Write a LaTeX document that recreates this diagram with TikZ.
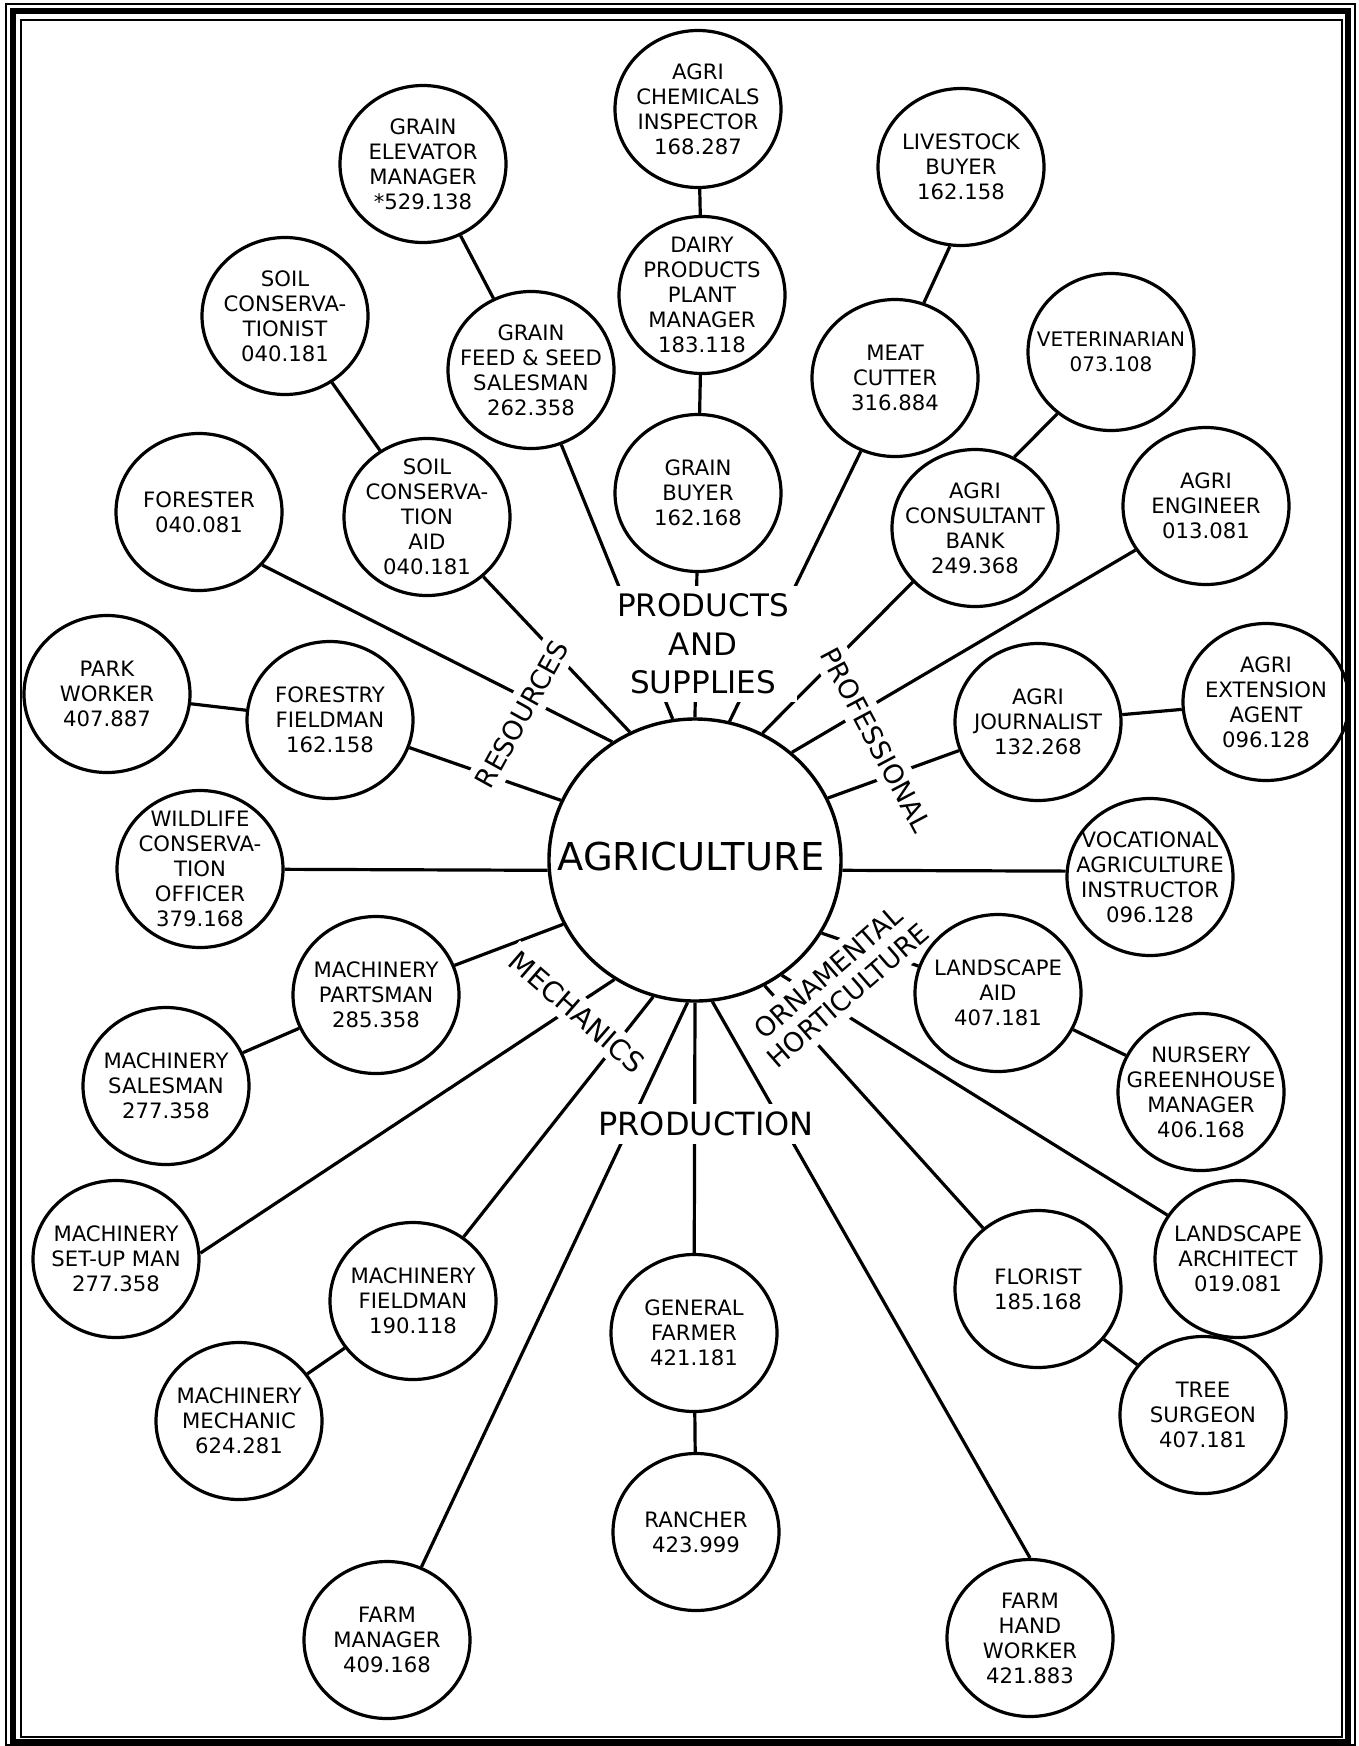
\documentclass[tikz,border=0pt]{standalone}
\usepackage{fontspec}
\setmainfont{DejaVu Sans}
\usetikzlibrary{shapes.geometric}
\pgfdeclarelayer{bg}
\pgfsetlayers{bg,main}
\newcommand\mybub[3]{\node[bub] (#1) at (#2) {}; \node[txt] at (#1) {#3};}
\begin{document}
\begin{tikzpicture}[x=0.5pt,y=-0.5pt,
  bub/.style={draw, ellipse, line width=1.6pt, minimum width=83pt, minimum height=78.5pt, inner sep=0pt},
  txt/.style={align=center, font=\fontsize{10.6}{12.5}\selectfont, inner sep=0pt},
  cat/.style={fill=white, inner sep=4pt, align=center, font=\fontsize{13.4}{15.2}\selectfont},
  bigcat/.style={fill=white, inner sep=4pt, align=center, font=\fontsize{15.5}{19.25}\selectfont},
  link/.style={line width=1.6pt}]
\useasboundingbox (0,0) rectangle (1359,1746);
% frame
\draw[line width=0.6pt] (6,4) rectangle (1355,1745);
\draw[line width=2.8pt] (13,11) rectangle (1348,1742);
\draw[line width=0.8pt] (21,20) rectangle (1342,1737);
% centre
\node[draw, ellipse, line width=1.7pt, minimum width=146pt, minimum height=141pt, inner sep=0pt] (agri) at (695,860) {};
\node[inner sep=0pt, font=\fontsize{19.2}{22}\selectfont] at (691,857) {AGRICULTURE};
% bubbles
\mybub{chem}{698,109}{AGRI\\CHEMICALS\\INSPECTOR\\168.287}
\mybub{dairy}{702,295}{DAIRY\\PRODUCTS\\PLANT\\MANAGER\\183.118}
\mybub{gbuyer}{698,493}{GRAIN\\BUYER\\162.168}
\mybub{gelev}{423,164}{GRAIN\\ELEVATOR\\MANAGER\\*529.138}
\mybub{gfeed}{531,370}{GRAIN\\FEED \& SEED\\SALESMAN\\262.358}
\mybub{soilc}{285,316}{SOIL\\CONSERVA-\\TIONIST\\040.181}
\mybub{soilaid}{427,517}{SOIL\\CONSERVA-\\TION\\AID\\040.181}
\mybub{forester}{199,512}{FORESTER\\040.081}
\mybub{park}{107,694}{PARK\\WORKER\\407.887}
\mybub{fieldman}{330,720}{FORESTRY\\FIELDMAN\\162.158}
\mybub{wild}{200,869}{WILDLIFE\\CONSERVA-\\TION\\OFFICER\\379.168}
\mybub{partsman}{376,995}{MACHINERY\\PARTSMAN\\285.358}
\mybub{msales}{166,1086}{MACHINERY\\SALESMAN\\277.358}
\mybub{setup}{116,1259}{MACHINERY\\SET-UP MAN\\277.358}
\mybub{mfield}{413,1301}{MACHINERY\\FIELDMAN\\190.118}
\mybub{mmech}{239,1421}{MACHINERY\\MECHANIC\\624.281}
\mybub{fmanager}{387,1640}{FARM\\MANAGER\\409.168}
\mybub{genfarmer}{694,1333}{GENERAL\\FARMER\\421.181}
\mybub{rancher}{696,1532}{RANCHER\\423.999}
\mybub{farmhand}{1030,1638}{FARM\\HAND\\WORKER\\421.883}
\mybub{florist}{1038,1289}{FLORIST\\185.168}
\mybub{treesurg}{1203,1415}{TREE\\SURGEON\\407.181}
\mybub{landarch}{1238,1259}{LANDSCAPE\\ARCHITECT\\019.081}
\mybub{nursery}{1201,1092}{NURSERY\\GREENHOUSE\\MANAGER\\406.168}
\mybub{landaid}{998,993}{LANDSCAPE\\AID\\407.181}
\mybub{voc}{1150,877}{VOCATIONAL\\AGRICULTURE\\INSTRUCTOR\\096.128}
\mybub{journ}{1038,722}{AGRI\\JOURNALIST\\132.268}
\mybub{ext}{1266,702}{AGRI\\EXTENSION\\AGENT\\096.128}
\mybub{eng}{1206,506}{AGRI\\ENGINEER\\013.081}
\mybub{cons}{975,528}{AGRI\\CONSULTANT\\BANK\\249.368}
\node[bub] (vet) at (1111,352) {};
\node[txt, font=\fontsize{10}{12.5}\selectfont] at (vet) {VETERINARIAN\\073.108};
\mybub{meat}{895,378}{MEAT\\CUTTER\\316.884}
\mybub{livestock}{961,167}{LIVESTOCK\\BUYER\\162.158}
\begin{pgfonlayer}{bg}
% spokes
\draw[link] (agri.125) -- (forester.320);
\draw[link] (agri.117) -- (soilaid);
\draw[link] (agri.156) -- (fieldman);
\draw[link] (agri.184) -- (wild);
\draw[link] (agri.206) -- (partsman);
\draw[link] (agri.236) -- (setup.4);
\draw[link] (agri.253) -- (mfield);
\draw[link] (agri.267) -- (fmanager);
\draw[link] (agri.270) -- (genfarmer);
\draw[link] (agri.277) -- (farmhand.north);
\draw[link] (agri.299) -- (florist);
\draw[link] (agri.307) -- (landarch);
\draw[link] (agri.330) -- (landaid);
\draw[link] (agri.-4) -- (voc.176);
\draw[link] (agri.25) -- (journ);
\draw[link] (agri.48) -- (eng.212);
\draw[link] (agri.62) -- (cons.221);
\draw[link] (agri.76) -- (meat.245);
\draw[link] (agri.90) -- (gbuyer);
\draw[link] (agri.99) -- (gfeed);
% secondary links
\draw[link] (gbuyer) -- (dairy);
\draw[link] (dairy) -- (chem);
\draw[link] (gelev) -- (gfeed);
\draw[link] (soilc) -- (soilaid);
\draw[link] (park) -- (fieldman);
\draw[link] (msales) -- (partsman);
\draw[link] (mmech) -- (mfield);
\draw[link] (genfarmer) -- (rancher);
\draw[link] (florist) -- (treesurg);
\draw[link] (landaid) -- (nursery);
\draw[link] (journ) -- (ext);
\draw[link] (vet.229) -- (cons.61);
\draw[link] (livestock.262) -- (meat.69);
% category labels
\node[bigcat] (lprod) at (703,644) {PRODUCTS\\AND\\SUPPLIES};
\node[cat, rotate=61] (lres) at (522,714) {RESOURCES};
\node[cat, rotate=-62] (lprof) at (876,740) {PROFESSIONAL};
\node[cat, rotate=-41, inner sep=3pt, font=\fontsize{14}{15.5}\selectfont] (lmech) at (577,1012) {MECHANICS};
\node[cat, rotate=41] (lorn) at (838,984) {ORNAMENTAL\\HORTICULTURE};
\node[cat, font=\fontsize{16}{19}\selectfont] (lprodn) at (706,1124) {PRODUCTION};
\end{pgfonlayer}
\end{tikzpicture}
\end{document}
